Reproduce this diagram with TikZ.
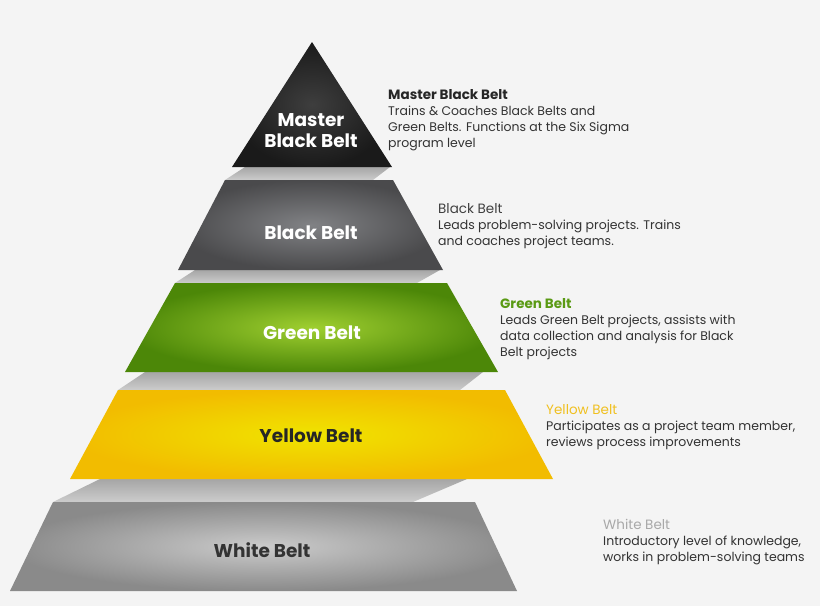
\documentclass[tikz,border=0pt]{standalone}
\usepackage{fontspec}
\setmainfont{Poppins}
\usetikzlibrary{positioning}

\definecolor{bg}{HTML}{F4F4F4}
\definecolor{txt}{HTML}{333333}
\definecolor{mbbin}{HTML}{3E3E3E}
\definecolor{mbbout}{HTML}{1A1A1A}
\definecolor{bbin}{HTML}{818285}
\definecolor{bbout}{HTML}{4A4A4C}
\definecolor{gbin}{HTML}{9FCF30}
\definecolor{gbout}{HTML}{4C8708}
\definecolor{ybin}{HTML}{F0E400}
\definecolor{ybout}{HTML}{F2BC00}
\definecolor{wbin}{HTML}{CBCBCB}
\definecolor{wbout}{HTML}{8A8A8A}
\definecolor{gbhead}{HTML}{5A9A14}
\definecolor{ybhead}{HTML}{F0C020}
\definecolor{wbhead}{HTML}{A8A8A8}

\newcommand{\beltname}[2]{{\fontsize{13.5}{15.7}\selectfont\color{#1}#2}}

\begin{document}
\begin{tikzpicture}[x=1pt, y=-1pt,
    tier/.style 2 args = {inner color=#1, outer color=#2}, % pyramid levels
    gap/.style = {top color=gray!70, bottom color=gray!40}, % shelf under a level
    lab/.style = {font=\fontsize{18.5}{21}\selectfont\bfseries, align=center},
    info/.style = {anchor=base west, align=left, inner sep=0pt, text=txt,
      font=\fontsize{12.5}{15.7}\selectfont}, % texts on the right, placed at last line
  ]
  \fill[bg] (0,0) rectangle (820,606);
  \useasboundingbox (0,0) rectangle (820,606);

  % shelves between the levels
  \shade[gap] (225,180) -- (245,167) -- (390,167) -- (373,180) -- cycle;
  \shade[gap] (175,283) -- (195,270) -- (440,270) -- (417,283) -- cycle;
  \shade[gap] (118,390) -- (145,372) -- (483,372) -- (460,390) -- cycle;
  \shade[gap] (53,502) -- (100,479) -- (467,479) -- (413,502) -- cycle;

  % levels
  \shade[tier={mbbin}{mbbout}] (312,42) -- (392,167) -- (232,167) -- cycle;
  \shade[tier={bbin}{bbout}] (225,180) -- (393,180) -- (443,270) -- (178,270) -- cycle;
  \shade[tier={gbin}{gbout}] (175,283) -- (447,283) -- (498,372) -- (125,372) -- cycle;
  \shade[tier={ybin}{ybout}] (118,390) -- (505,390) -- (553,479) -- (70,479) -- cycle;
  \shade[tier={wbin}{wbout}] (53,502) -- (475,502) -- (517,591) -- (10,591) -- cycle;

  \node[lab, text=white] (mbb) at (311,131) {Master\\Black Belt};
  \node[lab, text=white] (bb) at (311,233) {Black Belt};
  \node[lab, text=white] (gb) at (312,333) {Green Belt};
  \node[lab, text=black!85] (yb) at (311,436) {Yellow Belt};
  \node[lab, text=black!80] (wb) at (262,550) {White Belt};

  \node[info] (mbb-d) at (388,147) {\beltname{black!85}{\bfseries Master Black Belt}\\
    Trains \& Coaches Black Belts and\\
    Green Belts. Functions at the Six Sigma\\
    program level};
  \node[info] (bb-d) at (438,245) {\beltname{black!75}{Black Belt}\\
    Leads problem-solving projects. Trains\\
    and coaches project teams.};
  \node[info] (gb-d) at (500,356) {\beltname{gbhead}{\bfseries Green Belt}\\
    Leads Green Belt projects, assists with\\
    data collection and analysis for Black\\
    Belt projects};
  \node[info] (yb-d) at (546,446) {\beltname{ybhead}{Yellow Belt}\\
    Participates as a project team member,\\
    reviews process improvements};
  \node[info] (wb-d) at (603,561) {\beltname{wbhead}{White Belt}\\
    Introductory level of knowledge,\\
    works in problem-solving teams};
\end{tikzpicture}
\end{document}
